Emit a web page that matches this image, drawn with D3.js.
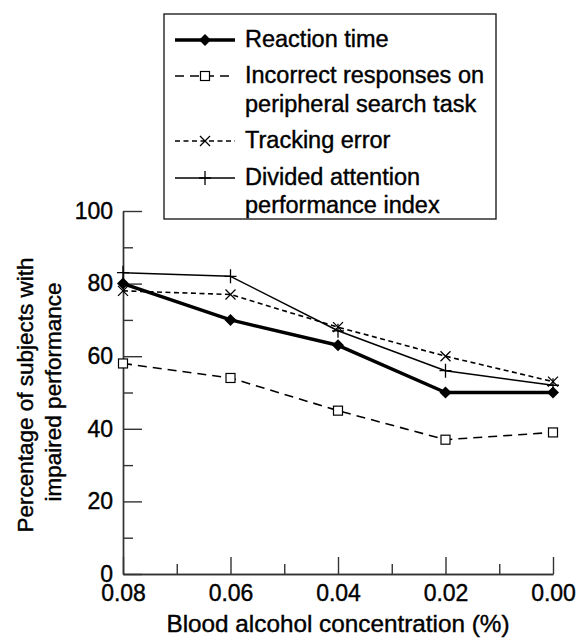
<!DOCTYPE html>
<html>
<head>
<meta charset="utf-8">
<script src="https://cdn.jsdelivr.net/npm/d3@7"></script>
<style>
  body { margin: 0; background: #fff; }
  text { font-family: "Liberation Sans", Arial, sans-serif; fill: #000; stroke: #000; stroke-width: 0.4px; }
</style>
</head>
<body>
<script>
        // data
        var bac = [0.08, 0.06, 0.04, 0.02, 0.00]
        var reactionTime = [80, 70, 63, 50, 50]
        var incorrectResponses = [58, 54, 45, 37, 39]
        var trackingError = [78, 77, 68, 60, 53]
        var dividedAttention = [83, 82, 67, 56, 52]

        var xMajor = [0.08, 0.06, 0.04, 0.02, 0.00]
        var xMinor = [0.07, 0.05, 0.03, 0.01]
        var yMajor = [0, 20, 40, 60, 80, 100]
        var yMinor = [10, 30, 50, 70, 90]

        var legendNames = [["Reaction time"], ["Incorrect responses on", "peripheral search task"], ["Tracking error"], ["Divided attention", "performance index"]]

        var width = 579
        var height = 643

        var svg = d3.select("body")
            .append("svg")
            .attr("width", width)
            .attr("height", height);

        var x = d3.scaleLinear().domain([0.08, 0]).range([123, 553])
        var y = d3.scaleLinear().domain([0, 100]).range([574, 211])

        var series = [
            {name: legendNames[0], values: reactionTime, width: 3.5, dash: null, marker: "diamond"},
            {name: legendNames[1], values: incorrectResponses, width: 1.6, dash: "9,6", marker: "square"},
            {name: legendNames[2], values: trackingError, width: 1.6, dash: "5,3.5", marker: "cross"},
            {name: legendNames[3], values: dividedAttention, width: 1.5, dash: null, marker: "plus"}
        ]

        drawAxes()
        drawLines()
        drawLegend()

        function marker(g, type, cx, cy) {
            if (type == "diamond") {
                g.append("path")
                    .attr("d", "M" + cx + "," + (cy - 6) + "L" + (cx + 6) + "," + cy + "L" + cx + "," + (cy + 6) + "L" + (cx - 6) + "," + cy + "Z")
                    .attr("fill", "black")
            } else if (type == "square") {
                g.append("rect")
                    .attr("x", cx - 4.5).attr("y", cy - 4.5)
                    .attr("width", 9).attr("height", 9)
                    .attr("fill", "white").attr("stroke", "black").attr("stroke-width", 1.2)
            } else if (type == "cross") {
                g.append("path")
                    .attr("d", "M" + (cx - 5) + "," + (cy - 5) + "L" + (cx + 5) + "," + (cy + 5) + "M" + (cx + 5) + "," + (cy - 5) + "L" + (cx - 5) + "," + (cy + 5))
                    .attr("stroke", "black").attr("stroke-width", 1.3)
            } else {
                g.append("path")
                    .attr("d", "M" + cx + "," + (cy - 7) + "L" + cx + "," + (cy + 7) + "M" + (cx - 6) + "," + cy + "L" + (cx + 6) + "," + cy)
                    .attr("stroke", "black").attr("stroke-width", 1.3)
            }
        }

        function drawAxes() {
            svg.append("g")
                .attr("transform", "translate(0," + y(0) + ")")
                .call(d3.axisBottom(x).tickValues(xMajor).tickFormat(d3.format(".2f"))
                    .tickSizeInner(-17).tickSizeOuter(0).tickPadding(11))
            svg.append("g")
                .attr("transform", "translate(0," + y(0) + ")")
                .call(d3.axisBottom(x).tickValues(xMinor).tickFormat("")
                    .tickSizeInner(-10).tickSizeOuter(0))

            svg.append("g")
                .attr("transform", "translate(" + x(0.08) + ",0)")
                .call(d3.axisLeft(y).tickValues(yMajor)
                    .tickSizeInner(-19).tickSizeOuter(0).tickPadding(10))
            svg.append("g")
                .attr("transform", "translate(" + x(0.08) + ",0)")
                .call(d3.axisLeft(y).tickValues(yMinor).tickFormat("")
                    .tickSizeInner(-10).tickSizeOuter(0))

            svg.selectAll(".domain, .tick line")
                .attr("stroke", "#333")
                .attr("stroke-width", 1.4)
            svg.selectAll(".tick text")
                .attr("font-size", 23)
                .attr("font-family", "Liberation Sans, Arial, sans-serif")
                .attr("fill", "black")

            // axis titles
            svg.append("text")
                .attr("x", 338).attr("y", 632)
                .attr("text-anchor", "middle")
                .attr("font-size", 24.3)
                .text("Blood alcohol concentration (%)")

            var yTitle = ["Percentage of subjects with", "impaired performance"]
            svg.selectAll(".ytitle")
                .data(yTitle)
                .enter()
                .append("text")
                .attr("class", "ytitle")
                .attr("transform", function(d, i) {
                    return "translate(" + (33 + i * 28) + "," + (395 - i * 3) + ") rotate(-90)"
                })
                .attr("text-anchor", "middle")
                .attr("font-size", 22.5)
                .text(function(d) { return d })
        }

        function drawLines() {
            var line = d3.line()
                .x(function(d, i) { return x(bac[i]) })
                .y(function(d) { return y(d) })

            series.forEach(function(s) {
                svg.append("path")
                    .attr("d", line(s.values))
                    .attr("fill", "none")
                    .attr("stroke", "black")
                    .attr("stroke-width", s.width)
                    .attr("stroke-dasharray", s.dash)
                    .attr("stroke-linejoin", "round")
                var g = svg.append("g")
                s.values.forEach(function(v, i) {
                    marker(g, s.marker, x(bac[i]), y(v))
                })
            })
        }

        function drawLegend() {
            svg.append("rect")
                .attr("x", 164).attr("y", 14)
                .attr("width", 332).attr("height", 205)
                .attr("fill", "white")
                .attr("stroke", "#222")
                .attr("stroke-width", 1.4)

            var rowY = [40, 76, 141, 178]
            var baselines = [[47], [83, 112], [148], [185, 213]]

            series.forEach(function(s, i) {
                svg.append("line")
                    .attr("x1", 175).attr("x2", 235)
                    .attr("y1", rowY[i]).attr("y2", rowY[i])
                    .attr("stroke", "black")
                    .attr("stroke-width", s.width)
                    .attr("stroke-dasharray", s.dash)
                marker(svg.append("g"), s.marker, 205, rowY[i])

                s.name.forEach(function(t, j) {
                    svg.append("text")
                        .attr("x", 245).attr("y", baselines[i][j])
                        .attr("font-size", 23.5)
                        .text(t)
                })
            })
        }
</script>
</body>
</html>
